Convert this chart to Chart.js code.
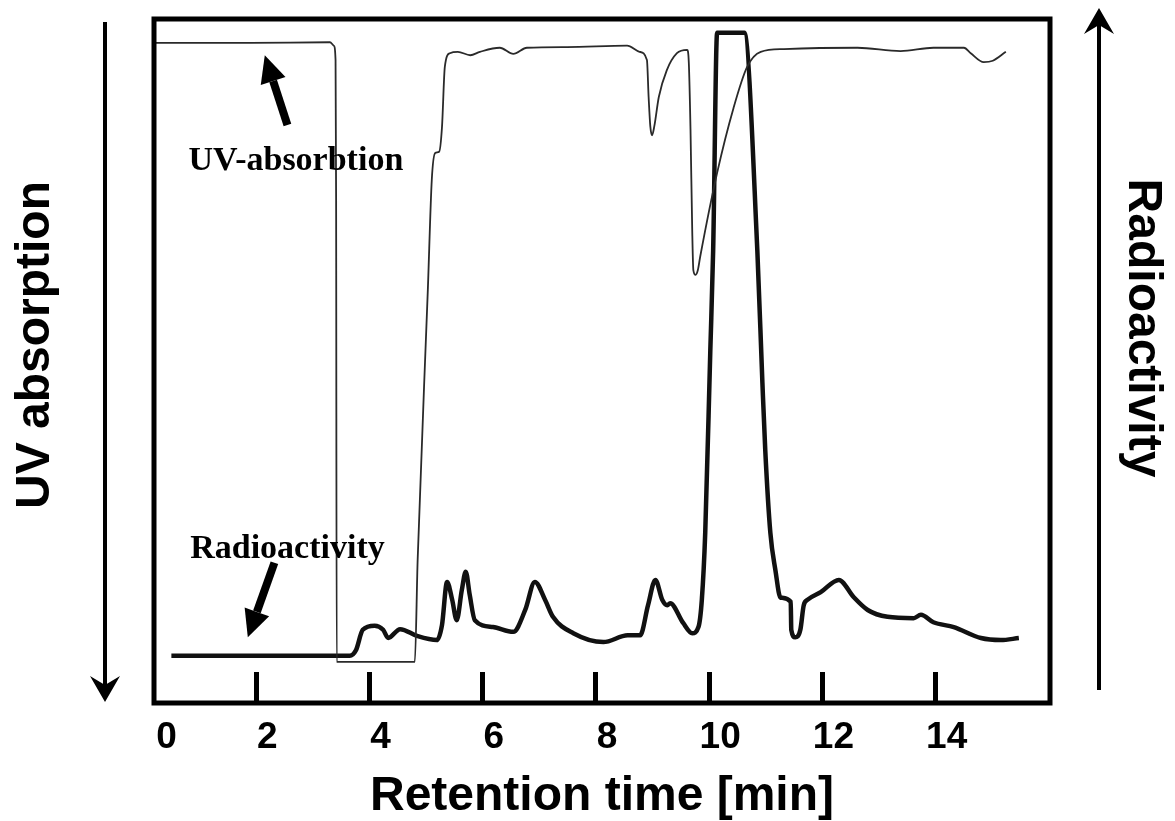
<!DOCTYPE html>
<html>
<head>
<meta charset="utf-8">
<script src="https://cdn.jsdelivr.net/npm/chart.js@4.4.0/dist/chart.umd.min.js"></script>
<style>
    html, body { margin: 0; padding: 0; background: #fff; }
    #wrap { width: 1175px; height: 821px; }
</style>
</head>
<body>
<div id="wrap"><canvas id="hplcChart"></canvas></div>
<script>
// Retention time [min] and signals in arbitrary units (0-100 of the plot height)
const TIME_UV = [0.20, 1.90, 3.30, 3.37, 3.40, 3.41, 3.42, 4.80, 4.85, 5.03, 5.10, 5.16, 5.23, 5.28, 5.33, 5.42, 5.56,
    5.78, 5.95, 6.30, 6.54, 6.78, 7.49, 8.55, 8.77, 8.90, 8.93, 8.96, 8.99, 9.03, 9.11, 9.25, 9.43,
    9.61, 9.64, 9.67, 9.70, 9.72, 9.76, 9.80, 9.84, 10.14, 10.43, 10.67, 10.91, 11.32, 12.62, 13.38, 13.96,
    14.50, 14.62, 14.85, 15.01, 15.24];
const UV = [3.5, 3.5, 3.4, 3.9, 6.0, 26.5, 94.0, 94.0, 79.1, 39.6, 23.5, 19.6, 19.4, 15.8, 7.0, 5.0, 4.8,
    5.3, 4.8, 4.2, 5.1, 4.2, 4.1, 3.9, 4.8, 6.0, 11.4, 15.7, 17.0, 15.7, 11.4, 7.5, 5.0,
    4.5, 6.4, 16.2, 30.8, 36.7, 37.4, 36.7, 34.8, 22.5, 13.0, 7.0, 4.8, 4.4, 4.2, 4.7, 4.2,
    4.2, 5.0, 6.3, 6.1, 4.8];

const TIME_RAD = [0.50, 2.76, 3.65, 3.76, 3.88, 4.09, 4.24, 4.33, 4.54, 4.84,
    5.19, 5.28, 5.37, 5.46, 5.54, 5.63, 5.70, 5.77, 5.86, 6.18,
    6.54, 6.75, 6.92, 7.10, 7.24, 7.60, 8.13, 8.56, 8.78, 8.92,
    9.05, 9.17, 9.26, 9.31, 9.54, 9.70, 9.81, 9.87, 9.93, 10.02,
    10.07, 10.14, 10.62, 10.85, 10.94, 10.99, 11.08, 11.17, 11.26, 11.44,
    11.45, 11.52, 11.61, 11.67, 11.74, 11.97, 12.29, 12.55, 12.80, 13.15,
    13.61, 13.74, 13.96, 14.32, 14.80, 15.15, 15.47];
const RAD = [6.9, 6.9, 6.9, 7.7, 10.7, 11.3, 10.7, 9.5, 10.8, 9.8,
    9.2, 11.4, 17.7, 15.1, 12.1, 16.5, 19.2, 15.8, 12.1, 11.1,
    10.4, 13.6, 17.7, 15.1, 12.6, 10.2, 8.9, 9.9, 9.9, 14.3,
    18.0, 15.1, 14.3, 14.6, 11.7, 10.2, 11.1, 15.1, 24.9, 51.6,
    66.2, 98.0, 98.0, 66.2, 46.8, 37.0, 24.9, 19.4, 15.4, 14.8,
    10.7, 9.6, 10.7, 14.3, 15.1, 16.2, 18.0, 15.5, 13.6, 12.6,
    12.4, 12.9, 11.8, 11.1, 9.5, 9.2, 9.5];

// "0" sits at the corner of the frame in the original figure
const X_TICKS = [0.22, 2, 4, 6, 8, 10, 12, 14];
const X_TICK_LABELS = ['0', '2', '4', '6', '8', '10', '12', '14'];

const SANS = '"Liberation Sans", Arial, sans-serif';
const SERIF = '"Liberation Serif", "Times New Roman", serif';

function drawArrow(ctx, x1, y1, x2, y2, width, headLen, headWidth, notch) {
    const ang = Math.atan2(y2 - y1, x2 - x1);
    const c = Math.cos(ang), s = Math.sin(ang);
    const bx = x2 - headLen * c, by = y2 - headLen * s;
    const nx = x2 - (headLen - notch) * c, ny = y2 - (headLen - notch) * s;
    ctx.lineWidth = width;
    ctx.lineCap = 'butt';
    ctx.beginPath();
    ctx.moveTo(x1, y1);
    ctx.lineTo(nx, ny);
    ctx.stroke();
    ctx.beginPath();
    ctx.moveTo(x2, y2);
    ctx.lineTo(bx + headWidth / 2 * s, by - headWidth / 2 * c);
    ctx.lineTo(nx, ny);
    ctx.lineTo(bx - headWidth / 2 * s, by + headWidth / 2 * c);
    ctx.closePath();
    ctx.fill();
}

const decorations = {
    id: 'decorations',
    afterDraw(chart) {
        const { ctx, chartArea: a, scales } = chart;
        const xs = scales.x, uv = scales.y, rad = scales.y2;
        ctx.save();
        ctx.strokeStyle = '#000';
        ctx.fillStyle = '#000';

        // frame
        ctx.lineWidth = 5;
        ctx.strokeRect(a.left, a.top, a.right - a.left, a.bottom - a.top);

        // side arrows
        drawArrow(ctx, 105, 22, 105, 702, 4, 26, 30, 9);
        drawArrow(ctx, 1099, 690, 1099, 8, 4, 26, 30, 9);

        // side titles
        ctx.font = 'bold 48px ' + SANS;
        ctx.textAlign = 'center';
        ctx.textBaseline = 'middle';
        ctx.save();
        ctx.translate(36, 345);
        ctx.rotate(-Math.PI / 2);
        ctx.fillText('UV absorption', 0, 0);
        ctx.restore();
        ctx.save();
        ctx.translate(1142, 328);
        ctx.rotate(Math.PI / 2);
        ctx.fillText('Radioactivity', 0, 0);
        ctx.restore();

        // trace labels
        ctx.font = 'bold 34px ' + SERIF;
        ctx.textBaseline = 'alphabetic';
        ctx.fillText('UV-absorbtion', xs.getPixelForValue(2.70), uv.getPixelForValue(22.1));
        drawArrow(ctx, xs.getPixelForValue(2.55), uv.getPixelForValue(15.5),
            xs.getPixelForValue(2.15), uv.getPixelForValue(5.3), 8, 27, 26, 0);
        ctx.fillText('Radioactivity', xs.getPixelForValue(2.55), rad.getPixelForValue(21.2));
        drawArrow(ctx, xs.getPixelForValue(2.32), rad.getPixelForValue(20.5),
            xs.getPixelForValue(1.85), rad.getPixelForValue(9.6), 8, 27, 26, 0);
        ctx.restore();
    }
};

const ctx = document.getElementById('hplcChart');
new Chart(ctx, {
    type: 'line',
    data: {
        datasets: [
            {
                label: 'UV-absorbtion',
                data: TIME_UV.map((t, i) => ({ x: t, y: UV[i] })),
                yAxisID: 'y',
                borderColor: '#2a2a2a',
                borderWidth: 1.8,
                pointRadius: 0,
                cubicInterpolationMode: 'monotone'
            },
            {
                label: 'Radioactivity',
                data: TIME_RAD.map((t, i) => ({ x: t, y: RAD[i] })),
                yAxisID: 'y2',
                borderColor: '#111',
                borderWidth: 4.5,
                borderJoinStyle: 'round',
                pointRadius: 0,
                cubicInterpolationMode: 'monotone'
            }
        ]
    },
    options: {
        responsive: true,
        maintainAspectRatio: false,
        animation: false,
        devicePixelRatio: 1,
        layout: { padding: { left: 154, right: 125, top: 19, bottom: 0 } },
        plugins: { legend: { display: false }, tooltip: { enabled: false } },
        scales: {
            x: {
                type: 'linear',
                position: 'bottom',
                min: 0.193,
                max: 16.02,
                afterBuildTicks: (scale) => { scale.ticks = X_TICKS.map(v => ({ value: v })); },
                afterFit: (scale) => { scale.height = 118; },
                ticks: {
                    autoSkip: false,
                    maxRotation: 0,
                    padding: 44,
                    labelOffset: 11,
                    color: '#000',
                    font: { family: SANS, size: 37, weight: 'bold' },
                    callback: (v, i) => X_TICK_LABELS[i]
                },
                grid: {
                    drawOnChartArea: false,
                    drawTicks: true,
                    tickLength: -31,
                    tickWidth: 5,
                    tickColor: (c) => c.index === 0 ? 'rgba(0,0,0,0)' : '#000'
                },
                border: { display: false },
                title: {
                    display: true,
                    text: 'Retention time [min]',
                    color: '#000',
                    padding: 0,
                    font: { family: SANS, size: 48, weight: 'bold', lineHeight: 1.0 }
                }
            },
            y: { display: false, reverse: true, min: 0, max: 100 },
            y2: { display: false, min: 0, max: 100 }
        }
    },
    plugins: [decorations]
});
</script>
</body>
</html>
